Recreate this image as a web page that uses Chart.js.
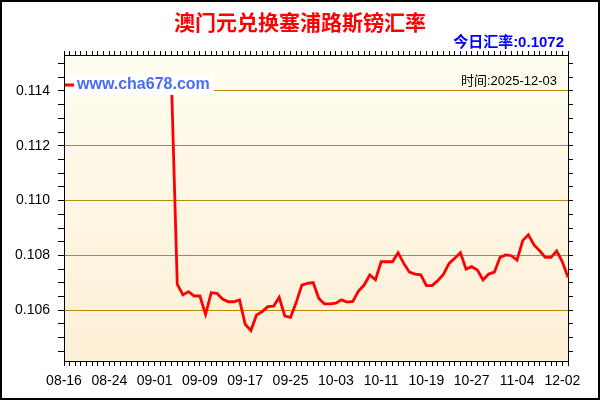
<!DOCTYPE html>
<html><head><meta charset="utf-8">
<script src="https://cdn.jsdelivr.net/npm/chart.js@4.4.1/dist/chart.umd.min.js"></script>
<style>html,body{margin:0;padding:0;background:#fff}#wrap{width:600px;height:400px;position:relative}</style>
</head><body><div id="wrap"><canvas id="c" width="600" height="400"></canvas></div>
<script>
const categories = [
 '08-16','08-17','08-18','08-19','08-20','08-21','08-22','08-23','08-24','08-25','08-26','08-27','08-28','08-29','08-30','08-31',
 '09-01','09-02','09-03','09-04','09-05','09-06','09-07','09-08','09-09','09-10','09-11','09-12','09-13','09-14','09-15','09-16',
 '09-17','09-18','09-19','09-20','09-21','09-22','09-23','09-24','09-25','09-26','09-27','09-28','09-29','09-30','10-01','10-02',
 '10-03','10-04','10-05','10-06','10-07','10-08','10-09','10-10','10-11','10-12','10-13','10-14','10-15','10-16','10-17','10-18',
 '10-19','10-20','10-21','10-22','10-23','10-24','10-25','10-26','10-27','10-28','10-29','10-30','10-31','11-01','11-02','11-03',
 '11-04','11-25','11-26','11-27','11-28','11-29','11-30','12-01','12-02','12-03'
];
const rates = [
 null,null,null,null,null,null,null,null,null,null,null,null,null,null,null,null,null,null,null,
 0.1142,0.10695,0.10656,0.10668,0.10652,0.10652,0.10585,0.10664,0.10662,0.10641,
 0.10631,0.10631,0.10638,0.10549,0.10526,0.10583,0.10595,0.10613,0.10615,0.10647,
 0.10579,0.10574,0.10628,0.10692,0.10698,0.10701,0.10643,0.10623,0.10623,0.10626,
 0.10638,0.10630,0.10632,0.10670,0.10692,0.10729,0.10711,0.10777,0.10777,0.10777,
 0.10810,0.10771,0.10739,0.10732,0.10729,0.10690,0.10690,0.10708,0.10731,0.10771,
 0.10790,0.10810,0.10750,0.10759,0.10747,0.10711,0.10732,0.10739,0.10793,0.10802,
 0.10799,0.10783,0.10854,0.10875,0.10838,0.10817,0.10793,0.10793,0.10816,0.10777,0.10720
];
const yMajorTicks = [0.106, 0.108, 0.110, 0.112, 0.114];
const yMinorTicks = [0.1045,0.1050,0.1055,0.1060,0.1065,0.1070,0.1075,0.1080,0.1085,0.1090,0.1095,
                     0.1100,0.1105,0.1110,0.1115,0.1120,0.1125,0.1130,0.1135,0.1140,0.1145,0.1150];
const yMin = 0.10415;
const yMax = 0.11531;
const labelEvery = 8;
const titleText = '澳门元兑换塞浦路斯镑汇率';
const todayText = '今日汇率:0.1072';
const timeText = '时间:2025-12-03';
const siteText = 'www.cha678.com';

const latin = "'Liberation Sans', Arial, 'Noto Sans CJK SC', sans-serif";
const cjk = "'Noto Sans CJK SC', 'Liberation Sans', sans-serif";
const isMajor = v => yMajorTicks.some(m => Math.abs(m - v) < 1e-7);
const setYTicks = s => { s.ticks = yMinorTicks.map(v => ({value: v})); };

const decor = {
  id: 'decor',
  beforeDraw(chart) {
    const {ctx, chartArea: a} = chart;
    const g = ctx.createLinearGradient(0, a.top, 0, a.bottom);
    g.addColorStop(0, '#FFFDF1');
    g.addColorStop(1, '#FDEFD6');
    ctx.save();
    ctx.fillStyle = g;
    ctx.fillRect(a.left, a.top, a.right - a.left, a.bottom - a.top);
    ctx.restore();
  },
  afterDraw(chart) {
    const {ctx, chartArea: a} = chart;
    ctx.save();
    ctx.fillStyle = '#ffffff';
    ctx.fillRect(a.left + 1, 75, 149, 20);
    ctx.fillStyle = '#ff0000';
    ctx.fillRect(a.left + 1, 83.5, 9, 3);
    ctx.fillStyle = '#4a6cf0';
    ctx.font = 'bold 16px ' + latin;
    ctx.textBaseline = 'middle';
    ctx.textAlign = 'left';
    ctx.fillText(siteText, a.left + 13, 85);
    ctx.fillStyle = '#000000';
    ctx.font = '13px ' + latin;
    ctx.textAlign = 'right';
    ctx.fillText(timeText, 557, 81);
    ctx.fillStyle = '#0000ff';
    ctx.font = 'bold 15px ' + latin;
    ctx.fillText(todayText, 564, 43);
    ctx.strokeStyle = '#000';
    ctx.lineWidth = 2;
    ctx.strokeRect(1, 1, 598, 398);
    ctx.restore();
  }
};

new Chart(document.getElementById('c'), {
  type: 'line',
  data: {
    labels: categories,
    datasets: [{
      label: siteText, data: rates, borderColor: '#ff0000', backgroundColor: '#ff0000',
      borderWidth: 2.8, pointRadius: 0, tension: 0, fill: false, spanGaps: false
    }]
  },
  options: {
    responsive: false, animation: false, devicePixelRatio: 1,
    layout: {padding: 0},
    plugins: {
      legend: {display: false},
      tooltip: {enabled: false},
      title: {
        display: true, text: titleText, color: '#ff0000',
        font: {family: cjk, size: 21, weight: 'bold', lineHeight: 1.2},
        padding: {top: 9, bottom: 0}
      }
    },
    scales: {
      x: {
        type: 'category', position: 'bottom', offset: false,
        border: {color: '#000', width: 1},
        grid: {drawOnChartArea: false, tickLength: 5, tickColor: '#000', color: '#000'},
        ticks: {
          autoSkip: false, maxRotation: 0, minRotation: 0, padding: 7, color: '#000',
          font: {family: latin, size: 14},
          callback: (v, i) => i % labelEvery === 0 ? categories[i] : ''
        },
        afterFit: s => { s.height = 39; }
      },
      xTop: {
        type: 'category', position: 'top', offset: false, display: true,
        border: {color: '#000', width: 1},
        grid: {drawOnChartArea: false, tickLength: 4, tickColor: '#000', color: '#000'},
        ticks: {autoSkip: false, maxRotation: 0, minRotation: 0, callback: () => ''},
        afterFit: s => { s.height = 20.8; }
      },
      y: {
        type: 'linear', position: 'left', min: yMin, max: yMax,
        border: {color: '#000', width: 1},
        grid: {
          drawOnChartArea: true, tickLength: 6, tickColor: '#000',
          color: c => (c.tick && isMajor(c.tick.value)) ? '#BB8A0C' : 'rgba(0,0,0,0)'
        },
        ticks: {
          autoSkip: false, color: '#000',
          font: {family: latin, size: 14}, padding: 8,
          callback: v => isMajor(v) ? v.toFixed(3) : ''
        },
        afterBuildTicks: setYTicks,
        afterFit: s => { s.width = 64; }
      },
      y2: {
        type: 'linear', position: 'right', min: yMin, max: yMax, display: true,
        border: {color: '#000', width: 1},
        grid: {drawOnChartArea: false, tickLength: 5, tickColor: '#000', color: '#000'},
        ticks: {autoSkip: false, callback: () => ''},
        afterBuildTicks: setYTicks,
        afterFit: s => { s.width = 32; }
      }
    }
  },
  plugins: [decor]
});
</script>
</body></html>
